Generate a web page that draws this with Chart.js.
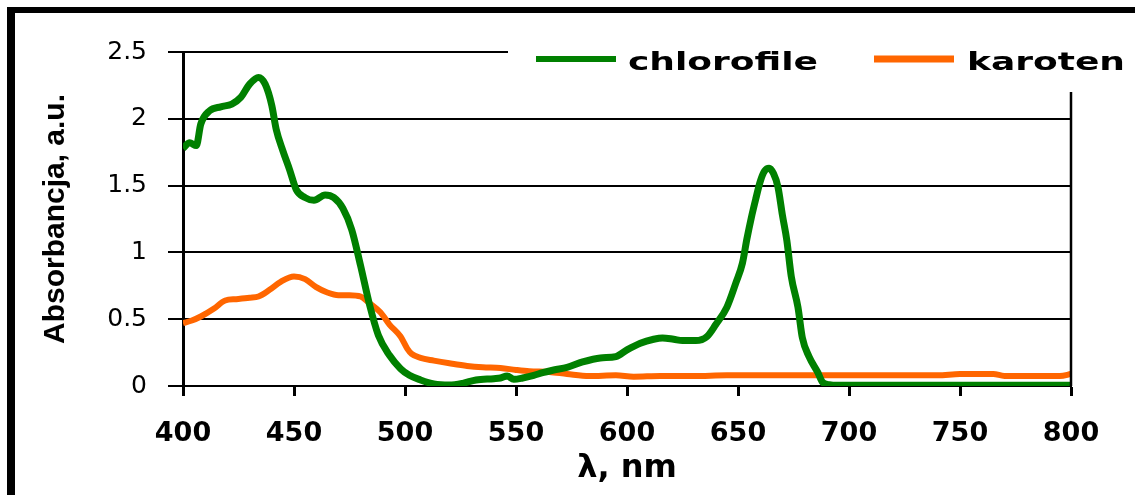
<!DOCTYPE html>
<html>
<head>
<meta charset="utf-8">
<script src="https://cdn.jsdelivr.net/npm/chart.js@4/dist/chart.umd.min.js"></script>
<style>
  html, body { margin: 0; padding: 0; background: #fff; }
  #wrap { width: 1135px; height: 495px; }
</style>
</head>
<body>
<div id="wrap"><canvas id="c" width="1135" height="495"></canvas></div>
<script>
// ---- data ----
const chlorofileNm  = [400,403,406,408,412,417,422,426,430,434,437,440,442,445,448,451,455,459,464,468,472,476,480,484,488,493,498,502,507,513,520,526,532,540,543,546,549,553,558,562,567,573,580,588,595,600,606,612,616,621,625,631,636,640,645,649,652,654,656,658,660,662,664,666,668,670,672,674,677,679,682,686,688,691,695,720,750,780,800];
const chlorofileAbs = [1.78,1.82,1.80,1.96,2.06,2.09,2.11,2.16,2.26,2.31,2.26,2.10,1.92,1.76,1.62,1.47,1.41,1.39,1.43,1.41,1.33,1.17,0.90,0.61,0.38,0.23,0.13,0.08,0.045,0.015,0.007,0.02,0.045,0.055,0.06,0.075,0.05,0.06,0.08,0.10,0.12,0.14,0.18,0.21,0.22,0.27,0.32,0.35,0.36,0.35,0.34,0.34,0.37,0.46,0.59,0.77,0.92,1.10,1.26,1.40,1.53,1.61,1.63,1.59,1.49,1.28,1.09,0.82,0.59,0.36,0.22,0.10,0.03,0.01,0.005,0.005,0.005,0.005,0.005];

const karotenNm  = [400,404,408,414,419,424,430,434,439,444,450,455,460,465,470,475,480,484,489,493,498,501,503,507,513,520,528,535,543,550,556,565,573,583,595,603,615,630,645,660,680,700,720,740,750,765,770,795,800];
const karotenAbs = [0.47,0.49,0.52,0.58,0.64,0.65,0.66,0.67,0.72,0.78,0.82,0.80,0.74,0.70,0.68,0.68,0.67,0.62,0.55,0.46,0.37,0.28,0.24,0.21,0.19,0.17,0.15,0.14,0.135,0.12,0.11,0.105,0.09,0.075,0.08,0.07,0.075,0.075,0.08,0.08,0.08,0.08,0.08,0.08,0.09,0.09,0.075,0.075,0.09];

const seriesLabels = ['chlorofile', 'karoten'];
const seriesColors = ['#008000', '#FF6600'];
const xMin = 400, xMax = 800, xStep = 50;
const yMin = 0, yMax = 2.5, yStep = 0.5;
const xTitle = 'λ, nm';
const yTitle = 'Absorbancja, a.u.';

function pts(xs, ys) { return xs.map((x, i) => ({ x: x, y: ys[i] })); }

const decorPlugin = {
  id: 'decor',
  beforeDraw(chart) {
    const ctx = chart.ctx;
    ctx.save();
    ctx.fillStyle = '#fff';
    ctx.fillRect(0, 0, chart.width, chart.height);
    ctx.fillStyle = '#000';
    ctx.fillRect(7, 7, chart.width - 7, 6);
    ctx.fillRect(7, 7, 8, chart.height - 7);
    ctx.restore();
  },
  afterDraw(chart) {
    const ctx = chart.ctx;
    const a = chart.chartArea;
    ctx.save();
    // right side of plot frame
    ctx.strokeStyle = '#000';
    ctx.lineWidth = 2.5;
    ctx.beginPath();
    ctx.moveTo(a.right, a.top);
    ctx.lineTo(a.right, a.bottom);
    ctx.stroke();
    // legend box (white, covers the top of the frame)
    ctx.fillStyle = '#fff';
    ctx.fillRect(508, 14, chart.width - 508, 78);
    // legend entries
    const items = [
      { x0: 536, x1: 616, lw: 6, tx: 628 },
      { x0: 874, x1: 954, lw: 7, tx: 967 }
    ];
    chart.data.datasets.forEach((ds, i) => {
      const it = items[i];
      ctx.strokeStyle = ds.borderColor;
      ctx.lineWidth = it.lw;
      ctx.lineCap = 'butt';
      ctx.beginPath();
      ctx.moveTo(it.x0, 59);
      ctx.lineTo(it.x1, 59);
      ctx.stroke();
      ctx.save();
      ctx.translate(it.tx, 70);
      ctx.scale(1.5, 1);
      ctx.fillStyle = '#000';
      ctx.font = 'bold 24px "DejaVu Sans"';
      ctx.textBaseline = 'alphabetic';
      ctx.textAlign = 'left';
      ctx.fillText(ds.label, 0, 0);
      ctx.restore();
    });
    ctx.restore();
  }
};

new Chart(document.getElementById('c'), {
  type: 'line',
  data: {
    datasets: [
      { label: seriesLabels[0], data: pts(chlorofileNm, chlorofileAbs), borderColor: seriesColors[0], backgroundColor: seriesColors[0], borderWidth: 7, pointRadius: 0, cubicInterpolationMode: 'monotone', fill: false },
      { label: seriesLabels[1], data: pts(karotenNm, karotenAbs), borderColor: seriesColors[1], backgroundColor: seriesColors[1], borderWidth: 6, pointRadius: 0, cubicInterpolationMode: 'monotone', fill: false }
    ]
  },
  options: {
    responsive: false,
    animation: false,
    devicePixelRatio: 1,
    layout: { padding: { left: 0, top: 52, right: 64, bottom: 0 } },
    plugins: { legend: { display: false }, tooltip: { enabled: false } },
    scales: {
      x: {
        type: 'linear', min: xMin, max: xMax,
        ticks: { stepSize: xStep, color: '#000', font: { family: '"DejaVu Sans"', size: 27, weight: 'bold' }, padding: 22, maxRotation: 0, autoSkip: false },
        grid: { drawOnChartArea: false, drawTicks: true, tickLength: 10, tickWidth: 3, tickColor: '#000', color: '#000' },
        border: { display: true, color: '#000', width: 2 },
        title: { display: true, text: xTitle, color: '#000', font: { family: '"DejaVu Sans"', size: 32, weight: 'bold' }, padding: { top: 0, bottom: 7 } },
        afterFit(scale) { scale.height = 109; }
      },
      y: {
        min: yMin, max: yMax,
        ticks: { stepSize: yStep, color: '#000', font: { family: '"DejaVu Sans"', size: 25 }, padding: 21, callback: (v) => String(v) },
        grid: { color: '#000', lineWidth: 2, tickLength: 15, tickWidth: 2, tickColor: '#000' },
        border: { display: true, color: '#000', width: 3 },
        title: { display: true, text: yTitle, color: '#000', font: { family: '"Liberation Sans"', size: 30, weight: 'bold' }, padding: { top: 38, bottom: 0 } },
        afterFit(scale) { scale.width = 183; }
      }
    }
  },
  plugins: [decorPlugin]
});
</script>
</body>
</html>
